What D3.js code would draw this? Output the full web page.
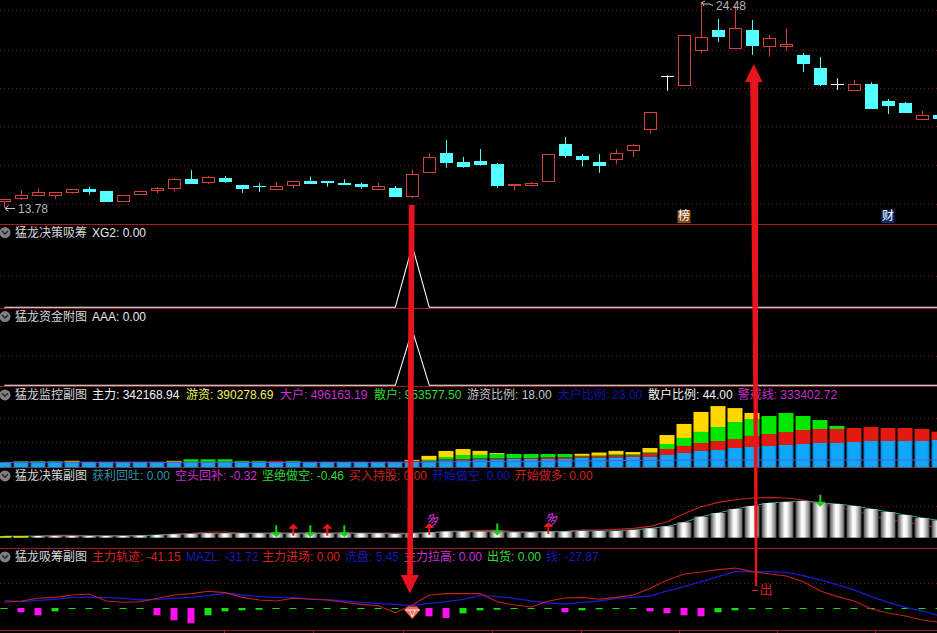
<!DOCTYPE html>
<html><head><meta charset="utf-8">
<style>html,body{margin:0;padding:0;background:#000;overflow:hidden}svg{display:block}
text{font-family:"Liberation Sans","Noto Sans CJK SC",sans-serif;font-size:12px;dominant-baseline:middle}</style>
<script src="https://cdn.jsdelivr.net/npm/d3@7"></script></head><body>
<script>
// --- candles (price)
const opens=[14.11,14.30,14.47,14.42,14.57,14.77,14.66,14.11,14.47,14.73,14.78,15.29,15.09,15.34,14.97,14.91,14.78,14.94,15.18,15.18,15.08,15.03,14.78,14.82,14.40,15.65,16.64,16.17,16.22,16.07,15.01,14.94,15.15,17.10,16.48,16.17,16.29,16.81,17.85,20.66,20.13,22.00,23.01,22.05,23.01,22.16,22.19,21.73,21.05,20.23,19.87,20.22,19.34,19.23,18.37,18.59];
const closes=[14.23,14.44,14.60,14.60,14.75,14.66,14.14,14.44,14.65,14.82,15.27,15.09,15.37,15.20,14.82,14.89,14.92,15.17,15.08,15.15,15.04,14.94,14.92,14.40,15.53,16.41,16.17,15.98,16.07,14.97,15.04,15.06,16.57,16.53,16.33,16.03,16.62,17.05,18.75,20.66,22.75,22.65,22.68,23.11,22.21,22.59,22.30,21.31,20.24,20.23,20.20,18.99,19.13,18.78,18.59,18.45];
const highs=[14.23,14.70,14.80,14.60,14.75,14.89,14.66,14.44,14.65,14.87,15.34,15.75,15.44,15.44,14.97,15.06,15.13,15.17,15.41,15.18,15.27,15.09,15.08,14.92,15.79,16.62,17.31,16.43,16.84,16.12,15.04,15.13,16.57,17.47,16.58,16.58,16.84,17.10,18.75,20.66,22.75,24.48,23.60,24.27,23.54,22.77,23.11,21.83,21.62,20.52,20.43,20.31,19.44,19.29,18.82,18.59];
const lows=[13.78,14.20,14.40,14.26,14.52,14.47,14.14,14.11,14.47,14.56,14.63,15.09,15.03,15.09,14.57,14.61,14.73,14.82,15.08,14.89,14.99,14.78,14.77,14.40,14.30,15.60,15.87,15.87,15.98,14.83,14.68,14.89,15.15,16.39,15.93,15.61,16.07,16.43,17.62,19.87,20.13,21.85,22.40,22.02,21.73,21.64,21.95,20.84,20.12,19.91,19.87,18.99,18.66,18.71,18.37,18.45];
const priceGrid=[24.05,22.00,20.00,18.02,16.00,13.97];
// --- signal panels
const xg2=opens.map((d,i)=>i===24?1:0);
const aaa=opens.map((d,i)=>i===24?1:0);
// --- monitor panel (thousands)
const mainFlow=[63,63,63,63,63,69,69,69,69,69,63,69,69,69,69,69,69,69,69,69,69,69,69,69,69,75,88,88,100,100,104,104,104,104,116,116,125,129,129,154,179,204,216,241,254,266,279,291,304,304,316,329,329,329,329,342];
const hotFlow=[0,0,0,0,0,0,0,0,0,0,6,0,0,0,0,0,12,0,0,0,0,0,0,0,12,6,10,15,9,12,9,12,21,21,19,19,25,25,50,75,88,100,112,112,138,150,162,175,175,175,175,175,162,162,150,104];
const bigFlow=[0,12,12,12,6,0,0,0,0,0,0,31,31,31,12,12,0,12,0,0,0,0,0,0,0,12,31,50,46,54,54,50,41,41,9,12,9,12,12,62,100,138,175,212,212,225,238,175,112,38,0,0,0,0,0,0];
const retailFlow=[0,0,0,0,12,0,0,0,0,0,12,0,0,0,0,0,0,0,0,0,0,0,0,0,12,50,75,75,50,12,0,0,0,0,25,38,46,25,50,112,175,250,262,175,75,0,0,0,0,0,0,0,0,0,0,0];
const warnLine=[62,62,62,62,62,62,62,62,62,62,62,62,62,62,62,62,62,62,62,62,62,62,62,62,64,66,68,70,72,72,74,74,76,78,80,82,84,86,88,88,90,90,92,92,92,92,92,92,92,92,92,92,92,92,92,92];
// --- decision panel
const decisionBars=[1.5,1.5,1.7,1.7,1.7,1.7,1.7,1.7,2,2.7,3.3,3.7,4.3,4.3,4.3,4.3,4.3,4.3,4.3,4.3,4.3,4.3,4.3,3.7,4.3,5,6,6,6,6,5.3,5.3,6,6,6.7,6.7,6.7,7.7,9.3,11.3,15.3,21,24.7,28.7,31.7,34.7,35.7,36.7,34.7,33.7,31.7,28.7,25.7,22.7,19.7,17.3];
const decisionLine=[null,null,1.3,2.3,2.3,2,2,2,2,2.3,3.7,4.3,5.7,5.7,4.3,4.7,4.7,4.7,4.7,4.7,4.7,4.7,4.7,4.7,4.3,4.3,6.3,6.7,7.3,7.3,6,6,6,6.3,7.7,7.7,8.3,9.3,11.3,16,24.3,31,35.3,38,39.7,40.3,39.7,37.7,34.3,31,26.7,22.7,17.7,16,12.7,10];
const buySignals=[17,19,25,32];
const sellSignals=[16,18,20,29,48];
const duoSignals=[25,32];
// --- accumulation panel
const mainTrack=[-12.6,-10.7,-6.9,-5.5,-2.1,-0.7,-10.7,-12.6,-11.7,-6.9,-2.1,-0.2,3.1,1.2,-5.5,-9.3,-10.7,-6.9,-8.3,-9.3,-12.6,-15.5,-17.4,-27.4,-16.4,-2.1,-0.2,-0.2,-0.2,-11.7,-16.4,-19.3,-10.7,-6.4,-5.5,-8.3,-5.5,-2.1,7.4,19.3,27.9,30.7,34.1,36.4,31.2,27.9,25,16.9,3.6,-4.5,-10.7,-22.1,-27.8,-32.1,-37.8,-41.15];
const mazl=[-9.7,-11.7,-9.7,-8.3,-5.5,-5.5,-6,-6.9,-9.3,-8.3,-6.9,-5.5,-3.1,0.3,-2.1,-4.5,-5.5,-6,-7.8,-8.8,-10.7,-12.6,-14.5,-15.5,-17.8,-14,-11.7,-8.3,-2.6,-4.5,-6.9,-10.7,-13.6,-15,-12.6,-10.7,-6.9,-5.5,-3.6,3.6,9.8,16.9,24.1,31.2,31.2,31.2,30.2,25.5,19.3,12.2,5,-4.5,-12.6,-19.7,-25,-31.72];
const washBars=[0,4.3,7.3,0,0,0,0,0,0,7.3,12.3,15.3,0,0,0,0,0,0,0,0,0,0,0,0,0,8.3,10,0,0,0,0,0,0,4.3,0,0,0,0,3.3,5.3,7.3,8.3,0,0,0,0,0,0,0,0,0,0,0,0,0,0];
const shipBars=[1,0,0,3.3,1,1,1,1,1,0,0,0,7.3,3.3,2.3,1.7,1,1,1,1,1,1,1,1,0,0,0,5.3,2.3,1.7,1,1,1,0,2.3,1.3,1,1,0,0,0,0,4.3,2.3,1.3,1,1,1,1,1,1,1,1,1,1,1];
const dateTicks=[224,313,403,492,581,679,777,875];
const titles=[
 {y:233.4,name:"猛龙决策吸筹",items:[["XG2: 0.00",92,"#e8e8e8"]]},
 {y:317.4,name:"猛龙资金附图",items:[["AAA: 0.00",92,"#e8e8e8"]]},
 {y:395.7,name:"猛龙监控副图",items:[["主力: 342168.94",92,"#f4f4f4"],["游资: 390278.69",186,"#f0f060"],["大户: 496163.19",280,"#c830d0"],["散户: 953577.50",374,"#30d838"],["游资比例: 18.00",467,"#c4c4c4"],["大户比例: 23.00",557.7,"#1414a8"],["散户比例: 44.00",648,"#f4f4f4"],["警戒线: 333402.72",737.7,"#c030c8"]]},
 {y:476.7,name:"猛龙决策副图",items:[["获利回吐: 0.00",92,"#3290a8"],["空头回补: -0.32",175,"#c830d0"],["坚绝做空: -0.46",262,"#30d838"],["买入持股: 0.00",349,"#d02020"],["开始做空: 0.00",432,"#1414b8"],["开始做多: 0.00",514.7,"#d02020"]]},
 {y:557.7,name:"猛龙吸筹副图",items:[["主力轨迹: -41.15",92,"#d82020"],["MAZL: -31.72",186,"#1a1ab8"],["主力进场: 0.00",262,"#d82020"],["洗盘: 5.45",345,"#1a1ab8"],["主力拉高: 0.00",404,"#c830d0"],["出货: 0.00",487,"#30d838"],["线: -27.87",546,"#1a1ab8"]]}
];
const separators=[224.5,308.5,386.5,467.5,548.5,630.5];
const dotted=[275.7,356.3,418.3,442.3,506.3,582.7];

const W=937,H=633,idx=d3.range(opens.length);
const svg=d3.select("body").append("svg").attr("width",W).attr("height",H).style("background","#000");
const defs=svg.append("defs");
function grad(id,stops){const g=defs.append("linearGradient").attr("id",id);stops.forEach(s=>g.append("stop").attr("offset",s[0]).attr("stop-color",s[1]));}
grad("metal",[["0","#484848"],["0.14","#8c8c8c"],["0.42","#fff"],["0.6","#f0f0f0"],["0.88","#8c8c8c"],["1","#505050"]]);
grad("blueG",[["0","#0a78c8"],["0.15","#0ea8f8"],["0.85","#0ea8f8"],["1","#0a78c8"]]);

const x=d3.scaleLinear().domain([0,55]).range([4.3,4.3+55*17]);
const yPrice=d3.scaleLinear().domain([13.78,24.48]).range([208,2]);
const yXg=d3.scaleLinear().domain([0,1]).range([307.3,246]);
const yAaa=d3.scaleLinear().domain([0,1]).range([385.3,330]);
const yFlow=d3.scaleLinear().domain([0,1000]).range([467.3,387.3]);
const yDec=d3.scaleLinear().domain([0,40]).range([537.7,497.7]);
const yTrack=d3.scaleLinear().domain([-41.15,36.4]).range([622.3,568]);
const yWash=d3.scaleLinear().domain([0,20]).range([608,628]);

// dotted grids
const dotCol="#701818";
svg.append("g").selectAll("line").data(priceGrid.map(p=>yPrice(p)).concat(dotted)).join("line")
 .attr("x1",0).attr("x2",W).attr("y1",d=>Math.round(d)+.5).attr("y2",d=>Math.round(d)+.5)
 .attr("stroke",dotCol).attr("stroke-dasharray","1 3");

// candles
const RED="#d8403c",CY="#54ffff",WH="#ffffff";
const col=i=>closes[i]>opens[i]?RED:closes[i]<opens[i]?CY:WH;
const gc=svg.append("g");
gc.selectAll("line.w").data(idx).join("line").attr("class","w")
 .attr("x1",i=>Math.round(x(i))+.5).attr("x2",i=>Math.round(x(i))+.5)
 .attr("y1",i=>yPrice(highs[i])).attr("y2",i=>yPrice(lows[i])).attr("stroke",col);
gc.selectAll("rect").data(idx).join("rect")
 .attr("x",i=>Math.round(x(i))-6+.5).attr("width",12)
 .attr("y",i=>Math.round(yPrice(Math.max(opens[i],closes[i])))+.5)
 .attr("height",i=>Math.max(0.01,Math.round(Math.abs(yPrice(opens[i])-yPrice(closes[i])))))
 .attr("fill",i=>closes[i]>opens[i]?"#000":col(i)).attr("stroke",col);

// low / high labels
svg.append("path").attr("d","M15 208.5H5M8.5 205.5L5 208.5L8.5 211.5").attr("fill","none").attr("stroke","#c8c8c8");
svg.append("text").attr("x",18).attr("y",209.5).attr("fill","#b4b4b4").text("13.78");
svg.append("path").attr("d","M713 5.5Q709 3 706 4T702 2.5M705 1L702 2.5L704 6").attr("fill","none").attr("stroke","#c8c8c8");
svg.append("text").attr("x",716).attr("y",7).attr("fill","#b4b4b4").text("24.48");
[["榜",684,"#8a4a12"],["财",888,"#0c2a70"]].forEach(d=>{
 svg.append("rect").attr("x",d[1]-6.5).attr("y",210).attr("width",13).attr("height",13).attr("fill",d[2]);
 svg.append("text").attr("x",d[1]).attr("y",216.8).attr("text-anchor","middle").attr("fill","#fff").text(d[0]);
});

// separators and date ticks
svg.append("g").selectAll("line").data(separators).join("line").attr("x1",0).attr("x2",W).attr("y1",d=>d).attr("y2",d=>d).attr("stroke","#a81c1c");
svg.append("g").selectAll("line").data(dateTicks).join("line").attr("x1",d=>d+.5).attr("x2",d=>d+.5).attr("y1",630).attr("y2",633).attr("stroke","#a81c1c");

// XG2 / AAA
[[xg2,yXg],[aaa,yAaa]].forEach(([s,yy])=>{
 svg.append("path").datum(s).attr("fill","none").attr("stroke","#fff").attr("stroke-width",1.1)
  .attr("d",d3.line().x((d,i)=>x(i)).y(d=>yy(d)));
});

// stacked monitor bars
const stacked=d3.stack().keys(["m","h","b","r"])(idx.map(i=>({m:mainFlow[i],h:hotFlow[i],b:bigFlow[i],r:retailFlow[i]})));
const flowCols=["url(#blueG)","#e21a12","#00e800","#ffd800"];
stacked.forEach((s,k)=>{
 svg.append("g").selectAll("rect").data(s).join("rect")
  .attr("x",(d,i)=>Math.round(x(i))-7.5).attr("width",15)
  .attr("y",d=>yFlow(d[1])).attr("height",d=>yFlow(d[0])-yFlow(d[1])).attr("fill",flowCols[k]);
});
svg.append("path").datum(warnLine).attr("fill","none").attr("stroke","#7050d8").attr("d",d3.line().x((d,i)=>x(i)).y(d=>yFlow(d)));

// decision panel
svg.append("path").datum(decisionLine).attr("fill","none").attr("stroke","#c82020").attr("stroke-width",1.1)
 .attr("d",d3.line().defined(d=>d!==null).x((d,i)=>x(i)).y(d=>yDec(d)));
svg.append("path").datum(decisionBars).attr("fill","none").attr("stroke","#3fa8a0")
 .attr("d",d3.line().x((d,i)=>x(i)).y(d=>yDec(d)));
svg.append("g").selectAll("rect").data(decisionBars).join("rect")
 .attr("x",(d,i)=>Math.round(x(i))-7.5).attr("width",15)
 .attr("y",d=>yDec(d)).attr("height",d=>yDec(0)-yDec(d))
 .attr("fill",(d,i)=>i<2?"#ffee00":"url(#metal)");
const arrowG=svg.append("g");
sellSignals.forEach(i=>{
 const cx=x(i),tip=yDec(decisionBars[i])+3.8;
 arrowG.append("path").attr("fill","#16d016").attr("d",`M${cx-1} ${tip-12}H${cx+1}V${tip-5}H${cx+5.5}L${cx} ${tip}L${cx-5.5} ${tip-5}H${cx-1}Z`);
});
buySignals.forEach(i=>{
 const cx=x(i),bot=yDec(decisionBars[i])+2.4;
 arrowG.append("path").attr("fill","#f01414").attr("d",`M${cx-1} ${bot}H${cx+1}V${bot-7}H${cx+5}L${cx} ${bot-12}L${cx-5} ${bot-7}H${cx-1}Z`);
});
duoSignals.forEach(i=>{
 const tx=x(i)+4.5,ty=yDec(decisionBars[i])-12;
 svg.append("text").attr("transform",`translate(${tx},${ty}) rotate(-30)`).attr("text-anchor","middle").attr("fill","#c830d8").style("font-size","13px").text("多");
});

// accumulation panel
svg.append("g").selectAll("rect").data(shipBars).join("rect").attr("x",(d,i)=>Math.round(x(i))-3.5).attr("width",7)
 .attr("y",yWash(0)).attr("height",d=>yWash(d)-yWash(0)).attr("fill","#18e018");
svg.append("g").selectAll("rect").data(washBars).join("rect").attr("x",(d,i)=>Math.round(x(i))-3.5).attr("width",7)
 .attr("y",yWash(0)).attr("height",d=>yWash(d)-yWash(0)).attr("fill","#ff10f0");
const tl=d3.line().x((d,i)=>x(i)).y(d=>yTrack(d));
svg.append("path").datum(mazl).attr("fill","none").attr("stroke","#1a1ad0").attr("stroke-width",1.3).attr("d",tl);
svg.append("path").datum(mainTrack).attr("fill","none").attr("stroke","#c81e1e").attr("stroke-width",1.1).attr("d",tl);

// diamond
const dx=x(24),dy=613;
svg.append("path").attr("fill","#f06a58").attr("d",`M${dx-8} ${dy-3}L${dx-4.5} ${dy-6.5}H${dx+4.5}L${dx+8} ${dy-3}L${dx} ${dy+6}Z`);
svg.append("path").attr("fill","none").attr("stroke","#ffe8e0").attr("d",`M${dx-7} ${dy-3}H${dx+7}M${dx-3} ${dy-3}L${dx} ${dy+4}L${dx+3} ${dy-3}`);

// titles
titles.forEach(t=>{
 svg.append("circle").attr("cx",5).attr("cy",t.y-.8).attr("r",5.5).attr("fill","#808080");
 svg.append("path").attr("d",`M2 ${t.y-2.5}L5 ${t.y+.5}L8 ${t.y-2.5}`).attr("fill","none").attr("stroke","#222").attr("stroke-width",1.4);
 svg.append("text").attr("x",15).attr("y",t.y).attr("fill","#d8d8d8").text(t.name);
 t.items.forEach(it=>svg.append("text").attr("x",it[1]).attr("y",t.y).attr("fill",it[2]).text(it[0]));
});

// hand drawn arrows
const AR="#e8141c";
svg.append("path").attr("fill",AR).attr("d","M408.8 205H414.6L412.8 575H418.8L409.8 593.5L400.8 575H407.2Z");
svg.append("path").attr("fill",AR).attr("d","M755 586H757.2L757.9 386L758.3 82H762.5L753.8 64L745 82H750.2L753.2 386Z");
svg.append("path").attr("d","M752 590.5H758").attr("stroke","#d82020").attr("fill","none");
svg.append("text").attr("x",766).attr("y",590.5).attr("text-anchor","middle").attr("fill","#d82020").style("font-size","13px").text("出");
</script></body></html>
